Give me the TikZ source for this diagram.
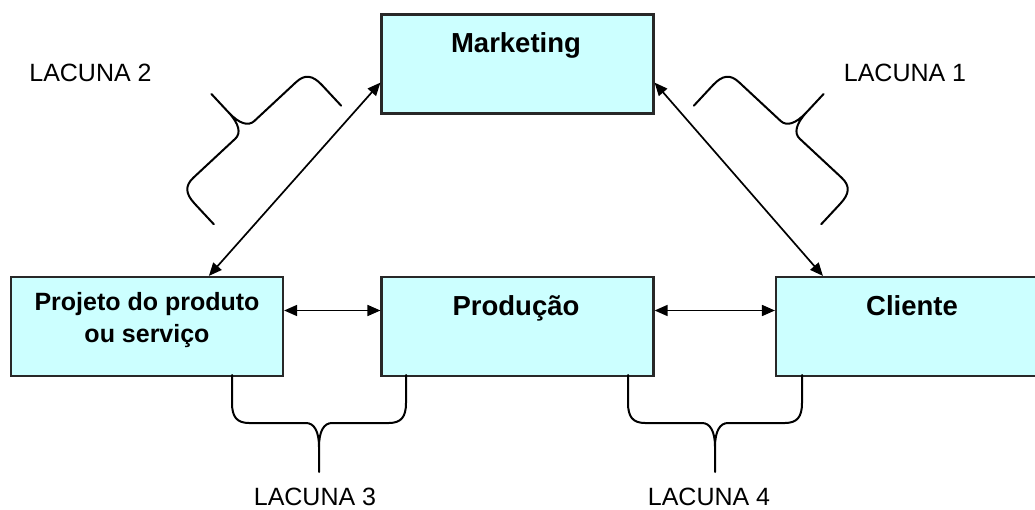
\documentclass[tikz,border=0pt]{standalone}
\usepackage{fontspec}
\setmainfont{Liberation Sans}
\usetikzlibrary{arrows.meta,calc}
\definecolor{boxcyan}{RGB}{204,255,255}
\definecolor{boxedge}{RGB}{40,40,40}

\tikzset{
  box/.style={draw=boxedge, line width=2.2pt, fill=boxcyan,
    minimum width=272pt, minimum height=99pt, inner sep=0pt},
  boxtext/.style={font=\bfseries\fontsize{27.5}{32}\selectfont, inner sep=0pt, anchor=base},
  gaplabel/.style={font=\fontsize{25}{30}\selectfont, inner sep=0pt, anchor=base},
  link/.style={line width=1.7pt,
    {Triangle[length=13pt,width=11pt]}-{Triangle[length=13pt,width=11pt]}},
  brace line/.style={line width=2pt, line join=round, line cap=round},
  lacuna brace/.pic={
    \draw[brace line]
      (-87,0) -- (-87,28) .. controls (-87,42) and (-82,48) .. (-70,48)
      -- (-13,48) .. controls (-5,48) and (0,56) .. (0,72) -- (0,97)
      (87,0) -- (87,28) .. controls (87,42) and (82,48) .. (70,48)
      -- (13,48) .. controls (5,48) and (0,56) .. (0,72) -- (0,97);
  }
}

\begin{document}
\begin{tikzpicture}[x=1pt,y=-1pt]
  \clip (0,0) rectangle (1035,510);
  \fill[white] (0,0) rectangle (1035,510);

  % boxes
  \node[box] (mkt)  at (517.5,64)  {};
  \node[box] (proj) at (147,326.5) {};
  \node[box] (prod) at (517.5,326.5) {};
  \node[box] (cli)  at (912,326.5) {};

  % box titles
  \node[boxtext] (mkttext)  at (516,53)  {Marketing};
  \node[boxtext] (prodtext) at (516,316) {Produção};
  \node[boxtext] (clitext)  at (912,316) {Cliente};
  % base anchor of a two-line node sits on the last line
  \node[boxtext, font=\bfseries\fontsize{25}{32}\selectfont, align=center]
    (projtext) at (147,342) {Projeto do produto\\ou serviço};

  % connectors
  \draw[link] ($(mkt.south west)+(0,-32)$) -- ($(proj.north west)+(199,0)$);
  \draw[link] ($(mkt.south east)+(0,-32)$) -- ($(cli.north west)+(48,0)$);
  \draw[link] ($(proj.east)+(0,-16)$) -- ($(prod.west)+(0,-16)$);
  \draw[link] ($(prod.east)+(0,-16)$) -- ($(cli.west)+(0,-16)$);

  % braces
  \pic[rotate=-137.06] at (277.5,165) {lacuna brace};
  \pic[rotate=137.06]  at (757.5,165) {lacuna brace};
  \pic at (319,375) {lacuna brace};
  \pic at (715,375) {lacuna brace};

  % gap labels
  \node[gaplabel] (lac2) at (90.5,81.5) {LACUNA 2};
  \node[gaplabel] (lac1) at (905,81.5)  {LACUNA 1};
  \node[gaplabel] (lac3) at (315,505.5) {LACUNA 3};
  \node[gaplabel] (lac4) at (709,505.5) {LACUNA 4};
\end{tikzpicture}
\end{document}
